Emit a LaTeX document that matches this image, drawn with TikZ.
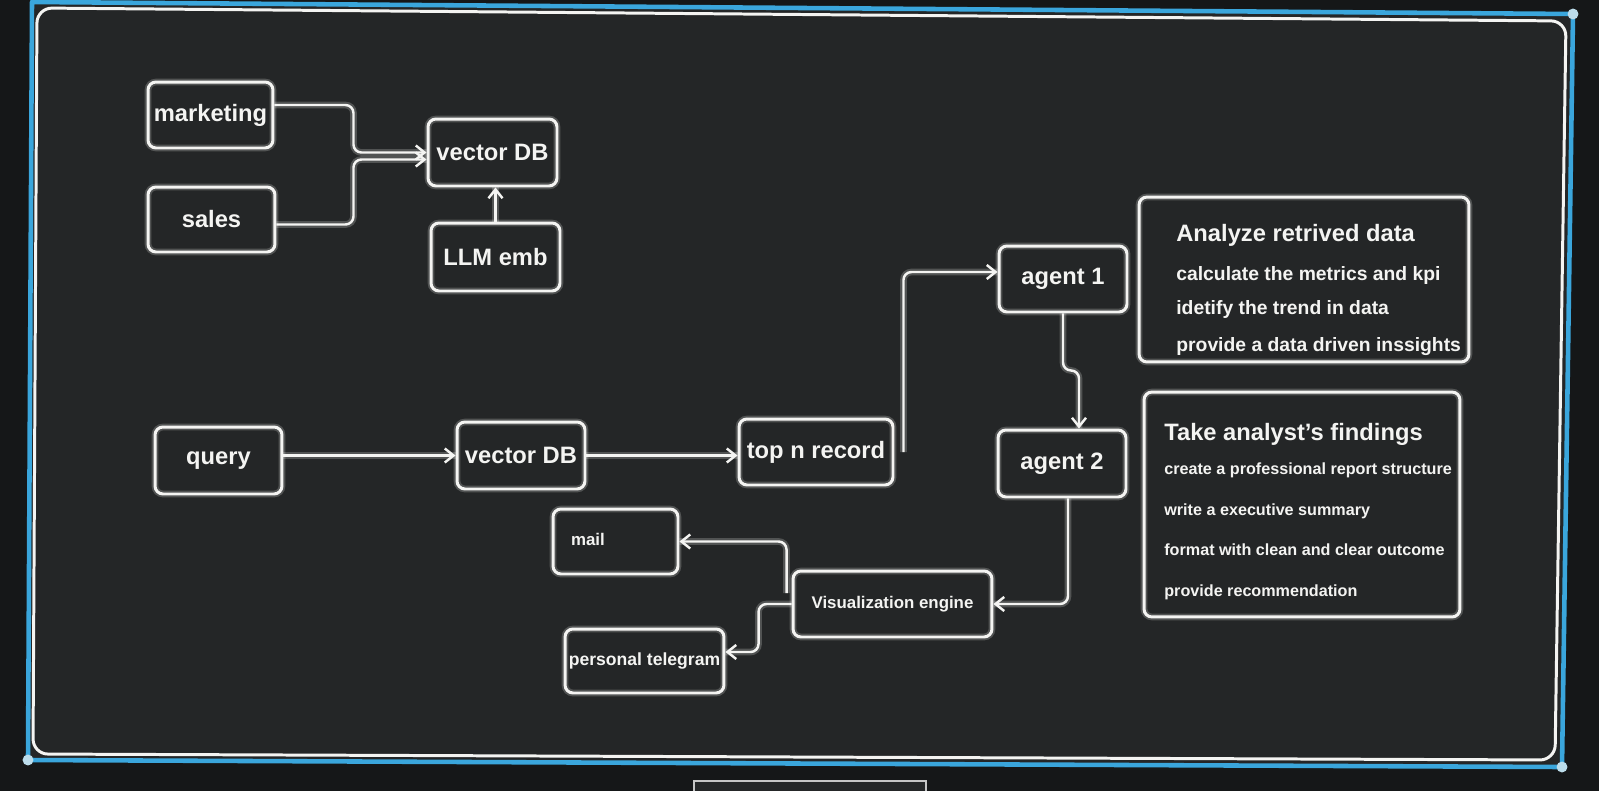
\documentclass[tikz,border=0pt]{standalone}
\usepackage{fontspec}
\setmainfont{Liberation Sans}
\usepackage{xcolor}
\usepackage{tikz}
\usetikzlibrary{calc,arrows.meta,positioning}
\definecolor{screen}{HTML}{242627}
\definecolor{bezel}{HTML}{151718}
\definecolor{frameblue}{HTML}{3AA6DC}
\definecolor{ink}{HTML}{F4F4F2}
\tikzset{
  glow/.style={preaction={-, draw=ink, draw opacity=0.22, line width=3.8pt}},
  box/.style={draw=ink, line width=1.7pt, rounded corners=0.16cm, glow, text=ink,
    font=\bfseries\fontsize{13.5}{16}\selectfont, inner sep=1pt},
  smallbox/.style={box, font=\bfseries\fontsize{9.6}{12}\selectfont},
  conn/.style={draw=ink, line width=1.4pt, glow, rounded corners=0.16cm,
    -{Straight Barb[length=5pt,width=8pt]}},
  note/.style={text=ink, align=left, anchor=north west, inner sep=0pt},
  frameline/.style={draw=frameblue, line width=2.6pt, line join=round},
  cornerdot/.style={circle, fill=ink!70!frameblue, inner sep=2.2pt}
}

\begin{document}
\begin{tikzpicture}[x=0.02cm, y=-0.02cm]
  \useasboundingbox (0,0) rectangle (1599,791);
  \fill[bezel] (0,0) rectangle (1599,791);

  % screen
  \fill[screen] (32,2) -- (1573,14) -- (1562,767) -- (28,760) -- cycle;
  \draw[frameline] (32,2) -- (1573,14) -- (1562,767) -- (28,760) -- cycle;
  \draw[ink, line width=1.7pt, rounded corners=0.3cm] (37,8) -- (1566,21) -- (1555,760) -- (33,754) -- cycle;
  \node[cornerdot] (dotne) at (1573,14) {};
  \node[cornerdot] (dotse) at (1562,767) {};
  \node[cornerdot] (dotsw) at (28,760) {};
  \draw[gray!45, fill=bezel!85!gray, line width=0.6pt] (694,781) rectangle (926,795);

  % ingestion
  \node[box, minimum width=2.5cm, minimum height=1.32cm] (marketing) at (210.5,115) {marketing};
  \node[box, minimum width=2.54cm, minimum height=1.3cm] (sales) at (211.5,219.5) {sales};
  \node[box, minimum width=2.58cm, minimum height=1.34cm] (vdbstore) at (492.5,152.5) {vector DB};
  \node[box, minimum width=2.58cm, minimum height=1.36cm] (llmemb) at (495.5,257) {LLM emb};

  \draw[conn] ([yshift=0.2cm]marketing.east) -- ++(79,0) |- (vdbstore.west);
  \draw[conn] ([yshift=-0.1cm]sales.east) -- ++(77,0) |- ([yshift=-0.14cm]vdbstore.west);
  \draw[conn] (llmemb.north) -- (llmemb.north |- vdbstore.south);

  % retrieval
  \node[box, minimum width=2.54cm, minimum height=1.34cm] (query) at (218.5,460.5) {query};
  \node[box, minimum width=2.56cm, minimum height=1.34cm] (vdbsearch) at (521,455.5) {vector DB};
  \node[box, minimum width=3.08cm, minimum height=1.32cm] (topn) at (816,452) {top n record};

  \draw[conn] (query.east |- vdbsearch.west) -- (vdbsearch.west);
  \draw[conn] (vdbsearch.east) -- (topn.west |- vdbsearch.east);

  % agents
  \node[box, minimum width=2.56cm, minimum height=1.32cm] (agentone) at (1063,279) {agent 1};
  \node[box, minimum width=2.56cm, minimum height=1.34cm] (agenttwo) at (1062,463.5) {agent 2};

  \draw[conn] ([xshift=0.18cm]topn.east) |- ([yshift=0.14cm]agentone.west);
  \draw[conn] (agentone.south) -- ++(0,57) -| ([xshift=0.34cm]agenttwo.north);

  \node[box, minimum width=6.6cm, minimum height=3.3cm] (analystbox) at (1304,279.5) {};
  \node[note, font=\bfseries\fontsize{11}{13}\selectfont] (analysttext) at (1176,224)
    {{\fontsize{13.5}{16}\selectfont Analyze retrived data}\\[9pt]
     calculate the metrics and kpi\\[6.3pt]
     idetify the trend in data\\[8.5pt]
     provide a data driven inssights};

  \node[box, minimum width=6.32cm, minimum height=4.5cm] (writerbox) at (1302,504.5) {};
  \node[note, font=\bfseries\fontsize{9.2}{11}\selectfont] (writertext) at (1164,423)
    {{\fontsize{13.5}{16}\selectfont Take analyst's findings}\\[8.5pt]
     create a professional report structure\\[12pt]
     write a executive summary\\[12pt]
     format with clean and clear outcome\\[12pt]
     provide recommendation};

  % delivery
  \node[smallbox, minimum width=3.98cm, minimum height=1.32cm] (vizengine) at (892.5,604) {Visualization engine};
  \node[smallbox, minimum height=1.3cm, text width=1.78cm, inner xsep=0.36cm, align=left] (mail) at (615.5,541.5) {\raisebox{0.1cm}{mail}};
  \node[box, font=\bfseries\fontsize{10}{12}\selectfont, minimum width=3.18cm, minimum height=1.28cm] (telegram) at (644.5,661) {personal telegram};

  \draw[conn] ([xshift=0.12cm]agenttwo.south) |- (vizengine.east);
  \draw[conn] ([shift={(-5,-11)}]vizengine.west) |- (mail.east);
  \draw[conn] (vizengine.west) -- ++(-33,0) |- ([yshift=0.18cm]telegram.east);
\end{tikzpicture}
\end{document}
